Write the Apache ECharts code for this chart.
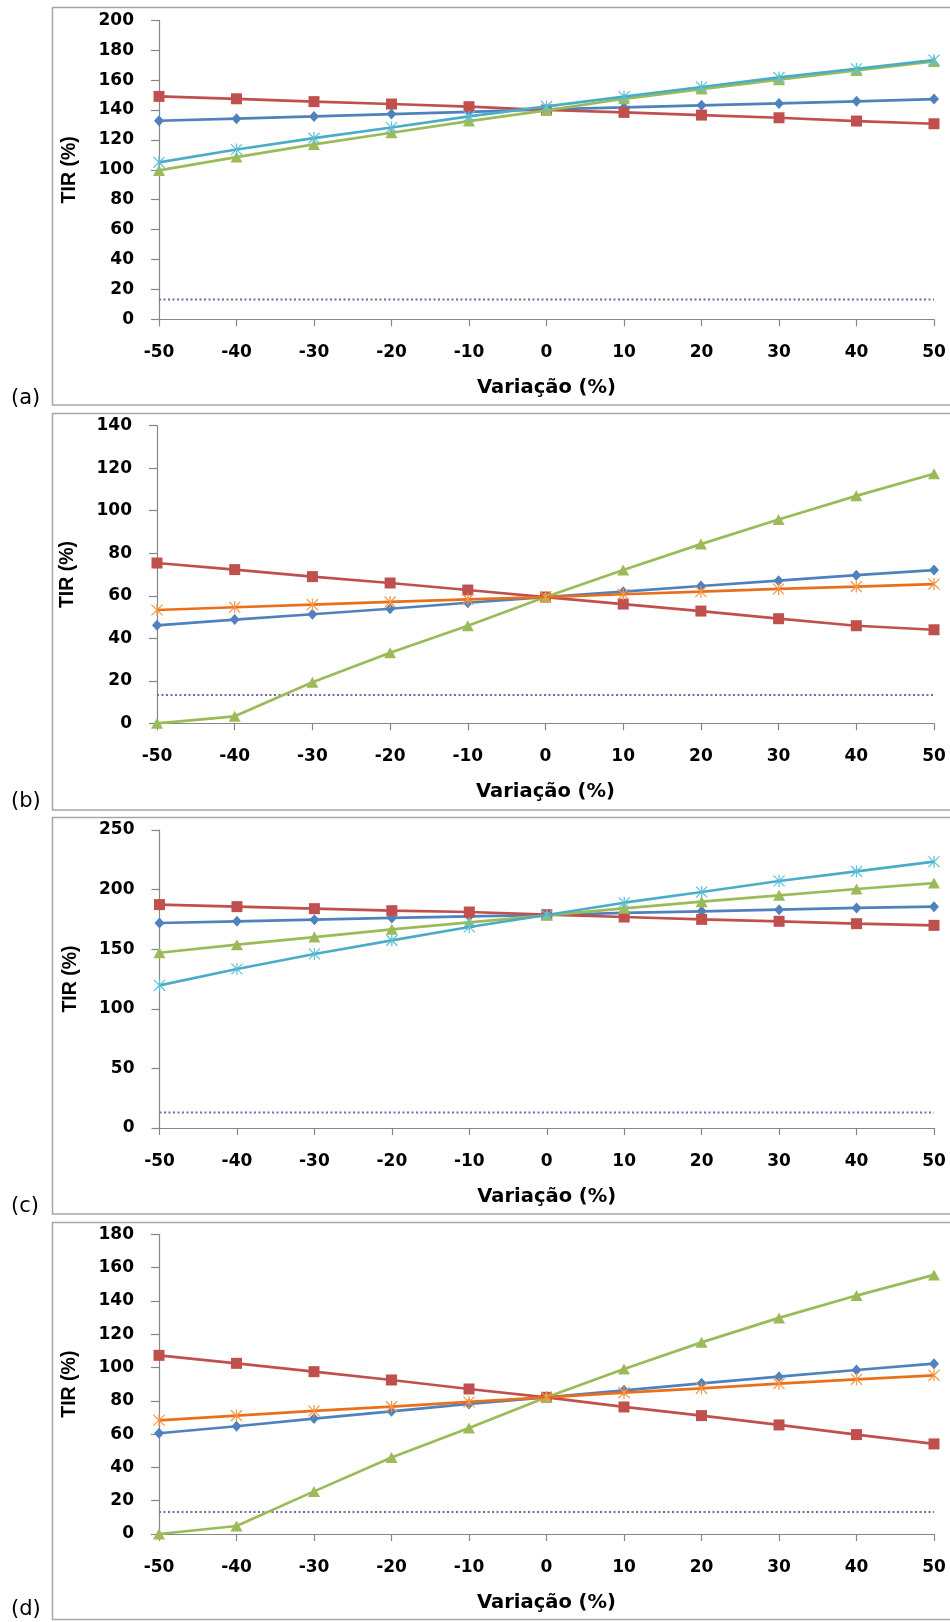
<!DOCTYPE html>
<html>
<head>
<meta charset="utf-8">
<script src="https://cdn.jsdelivr.net/npm/echarts@6/dist/echarts.min.js"></script>
<style>
html,body{margin:0;padding:0;background:#fff;}
#chart{width:950px;height:1622px;}
</style>
</head>
<body>
<div id="chart"></div>
<script>
// ---- data ----
var variacao = [-50, -40, -30, -20, -10, 0, 10, 20, 30, 40, 50];
var panelLabels = ['(a)', '(b)', '(c)', '(d)'];
var xTitle = 'Variação (%)';
var yTitle = 'TIR (%)';

var aBlue  = [132.8,134.2,135.7,137.3,138.8,140.4,141.7,143.1,144.4,145.8,147.3];
var aRed   = [149.1,147.5,145.6,144.0,142.2,140.0,138.4,136.6,134.8,132.6,130.8];
var aGreen = [99.6,108.5,117.0,124.8,132.6,139.8,147.5,154.0,160.3,166.5,172.5];
var aCyan  = [105.0,113.6,121.2,128.3,135.7,142.4,149.0,155.4,161.8,167.6,173.4];
var aTMA   = 13.3;

var bBlue  = [46.1,48.8,51.3,53.9,56.7,59.4,61.9,64.6,67.1,69.7,72.1];
var bRed   = [75.4,72.3,69.0,66.0,62.7,59.4,56.1,52.8,49.2,45.9,44.0];
var bGreen = [0,3.3,19.3,33.2,45.9,59.4,72.1,84.3,95.9,107.0,117.4];
var bOrange= [53.3,54.6,55.8,57.1,58.3,59.4,60.7,61.9,63.2,64.3,65.5];
var bTMA   = 13.3;

var cBlue  = [172.0,173.4,174.8,176.2,177.6,178.7,180.4,181.8,183.2,184.6,185.7];
var cRed   = [187.4,185.7,184.0,182.3,181.2,179.0,177.0,175.0,173.4,171.4,170.0];
var cGreen = [147.0,153.8,160.2,166.7,172.5,178.4,184.3,189.9,195.2,200.5,205.5];
var cCyan  = [119.7,133.4,146.0,157.4,168.6,178.7,189.0,198.0,207.2,215.3,223.4];
var cTMA   = 13.1;

var dBlue  = [60.5,64.7,69.3,73.7,78.1,82.1,86.3,90.5,94.5,98.5,102.3];
var dRed   = [107.3,102.5,97.5,92.5,87.1,82.1,76.3,71.1,65.5,59.7,54.1];
var dGreen = [0,4.8,25.6,45.9,63.7,82.1,99.1,115.1,129.8,143.2,155.6];
var dOrange= [68.3,71.1,73.9,76.5,79.3,82.1,84.9,87.5,90.3,92.9,95.3];
var dTMA   = 13.2;

var yMax = [200, 140, 250, 180];
var yInterval = [20, 20, 50, 20];

// ---- styling / layout ----
var C = {blue:'#4F81BD', red:'#C0504D', green:'#9BBB59', cyan:'#4BACC6',
         orangeLine:'#E8701A', orangeMark:'#F79646', purple:'#8064A2', axis:'#868686', frame:'#A6A6A6'};
var grids = [
  {left:159, top:20.3, height:299,   frame:[7.5, 405],     lab:400},
  {left:157, top:425.7, height:297.6, frame:[413.5, 810],  lab:803},
  {left:159.5, top:830, height:298,   frame:[817.5, 1214], lab:1208},
  {left:159, top:1234.3, height:299.7, frame:[1222.5, 1619.5], lab:1611}
];
var starPath = 'path://M9,0L11,0L11,20L9,20Z M0.3,1.7L1.7,0.3L19.7,18.3L18.3,19.7Z M18.3,0.3L19.7,1.7L1.7,19.7L0.3,18.3Z';

function pairs(arr){ return variacao.map(function(x,i){ return [x, arr[i]]; }); }
function flat(v){ return variacao.map(function(x){ return [x, v]; }); }

var panels = [
  {blue:aBlue, red:aRed, green:aGreen, fourth:aCyan, fourthType:'cyan', tma:aTMA},
  {blue:bBlue, red:bRed, green:bGreen, fourth:bOrange, fourthType:'orange', tma:bTMA},
  {blue:cBlue, red:cRed, green:cGreen, fourth:cCyan, fourthType:'cyan', tma:cTMA},
  {blue:dBlue, red:dRed, green:dGreen, fourth:dOrange, fourthType:'orange', tma:dTMA}
];

var option = {
  animation:false,
  backgroundColor:'#fff',
  grid:[], xAxis:[], yAxis:[], series:[], graphic:[]
};

var tickFont = {fontFamily:'DejaVu Sans', fontWeight:'bold', fontSize:17, color:'#000'};

panels.forEach(function(p, i){
  var g = grids[i];
  option.grid.push({left:g.left, right:16, top:g.top, height:g.height, containLabel:false});
  option.xAxis.push({
    type:'value', gridIndex:i, min:-50, max:50, interval:10,
    name:xTitle, nameLocation:'middle', nameGap:59,
    nameTextStyle:{fontFamily:'DejaVu Sans', fontWeight:'bold', fontSize:19.5, color:'#000'},
    axisLine:{show:true, onZero:false, lineStyle:{color:C.axis, width:1.2}},
    axisTick:{show:true, length:7, lineStyle:{color:C.axis, width:1.2}},
    axisLabel:Object.assign({margin:25}, tickFont),
    splitLine:{show:false}
  });
  option.yAxis.push({
    type:'value', gridIndex:i, min:0, max:yMax[i], interval:yInterval[i],
    name:yTitle, nameLocation:'middle', nameGap:79, nameRotate:90,
    nameTextStyle:{fontFamily:'Liberation Sans', fontWeight:'bold', fontSize:19.5, color:'#000'},
    axisLine:{show:true, onZero:false, lineStyle:{color:C.axis, width:1.2}},
    axisTick:{show:true, length:8, lineStyle:{color:C.axis, width:1.2}},
    axisLabel:Object.assign({margin:25}, tickFont),
    splitLine:{show:false}
  });
  var base = {type:'line', xAxisIndex:i, yAxisIndex:i, showSymbol:true, clip:false};
  option.series.push(Object.assign({}, base, {
    name:'tma', data:flat(p.tma), symbol:'none', z:1,
    lineStyle:{color:C.purple, width:2, type:[2,2.5]}
  }));
  option.series.push(Object.assign({}, base, {
    data:pairs(p.blue), symbol:'diamond', symbolSize:[10,11], z:2,
    lineStyle:{color:C.blue, width:2.7}, itemStyle:{color:C.blue}
  }));
  option.series.push(Object.assign({}, base, {
    data:pairs(p.red), symbol:'rect', symbolSize:11, z:3,
    lineStyle:{color:C.red, width:2.7}, itemStyle:{color:C.red}
  }));
  option.series.push(Object.assign({}, base, {
    data:pairs(p.green), symbol:'triangle', symbolSize:[12,11], z:4,
    lineStyle:{color:C.green, width:2.7}, itemStyle:{color:C.green}
  }));
  var isCyan = p.fourthType === 'cyan';
  option.series.push(Object.assign({}, base, {
    data:pairs(p.fourth), symbol:starPath, symbolSize:12, z:5,
    lineStyle:{color:isCyan ? C.cyan : C.orangeLine, width:2.7},
    itemStyle:{color:isCyan ? '#5CC0DA' : C.orangeMark}
  }));
  // frame and panel label
  option.graphic.push({
    type:'rect', silent:true, z:-1,
    shape:{x:52.5, y:g.frame[0], width:920, height:g.frame[1]-g.frame[0]},
    style:{fill:null, stroke:C.frame, lineWidth:1.5}
  });
  option.graphic.push({
    type:'text', silent:true, left:11, top:g.lab - 12,
    style:{text:panelLabels[i], fontFamily:'DejaVu Sans', fontSize:21, fill:'#000'}
  });
});

var chart = echarts.init(document.getElementById('chart'), null, {renderer:'canvas'});
chart.setOption(option);
</script>
</body>
</html>
